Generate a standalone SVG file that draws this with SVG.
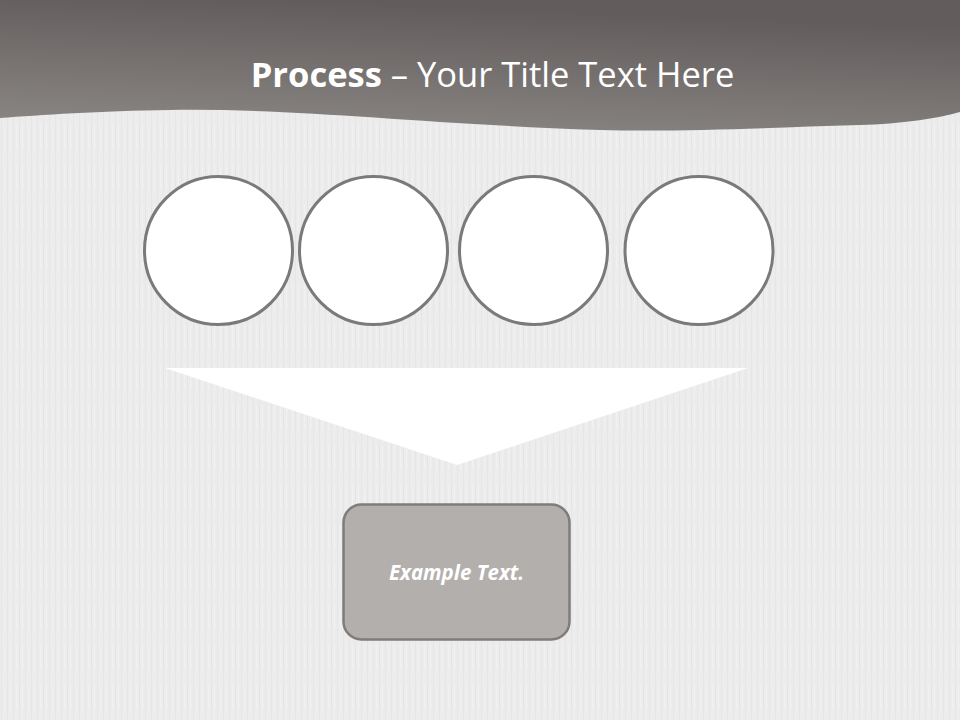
<svg xmlns="http://www.w3.org/2000/svg" width="960" height="720" viewBox="0 0 960 720">
<defs>
<linearGradient id="hdr" x1="0" y1="1" x2="0.3" y2="0">
<stop offset="0" stop-color="#8c8886"/>
<stop offset="1" stop-color="#625d5c"/>
</linearGradient>
<pattern id="tex" width="6" height="40" patternUnits="userSpaceOnUse">
<rect width="6" height="40" fill="#ececec"/>
<line x1="1.5" y1="0" x2="1.5" y2="40" stroke="#e6e6e6" stroke-width="1"/>
<line x1="4.5" y1="5" x2="4.5" y2="30" stroke="#f1f1f1" stroke-width="1"/>
</pattern>
<style>
.circ{fill:#ffffff;stroke:#7a7a7a;stroke-width:3}
.box{fill:#b3afad;stroke:#7f7c7b;stroke-width:2.5}
.title{font-family:"Open Sans","Liberation Sans",sans-serif;fill:#ffffff;font-size:34.5px}
.lbl{font-family:"Open Sans","Liberation Sans",sans-serif;fill:#ffffff;font-size:20.5px;font-weight:bold;font-style:italic}
</style>
</defs>
<rect width="960" height="720" fill="url(#tex)"/>
<path d="M0 0 H960 V112 C940 118 900 124 860 125 C760 128 680 132 600 130 C420 124 300 108 170 110 C100 111 40 115 0 118 Z" fill="url(#hdr)"/>
<text class="title" x="492.5" y="87" text-anchor="middle"><tspan font-weight="bold">Process</tspan> – Your Title Text Here</text>
<g id="connectors">
<polygon points="165,368 748,368 457,465" fill="#ffffff"/>
</g>
<g id="circle1"><circle class="circ" cx="218.5" cy="250.5" r="74"/></g>
<g id="circle2"><circle class="circ" cx="373.5" cy="250.5" r="74"/></g>
<g id="circle3"><circle class="circ" cx="533.5" cy="250.5" r="74"/></g>
<g id="circle4"><circle class="circ" cx="699" cy="250.5" r="74"/></g>
<g id="result">
<rect class="box" x="343.5" y="504.5" width="226" height="135" rx="18"/>
<text class="lbl" x="456.5" y="580" text-anchor="middle">Example Text.</text>
</g>
</svg>
